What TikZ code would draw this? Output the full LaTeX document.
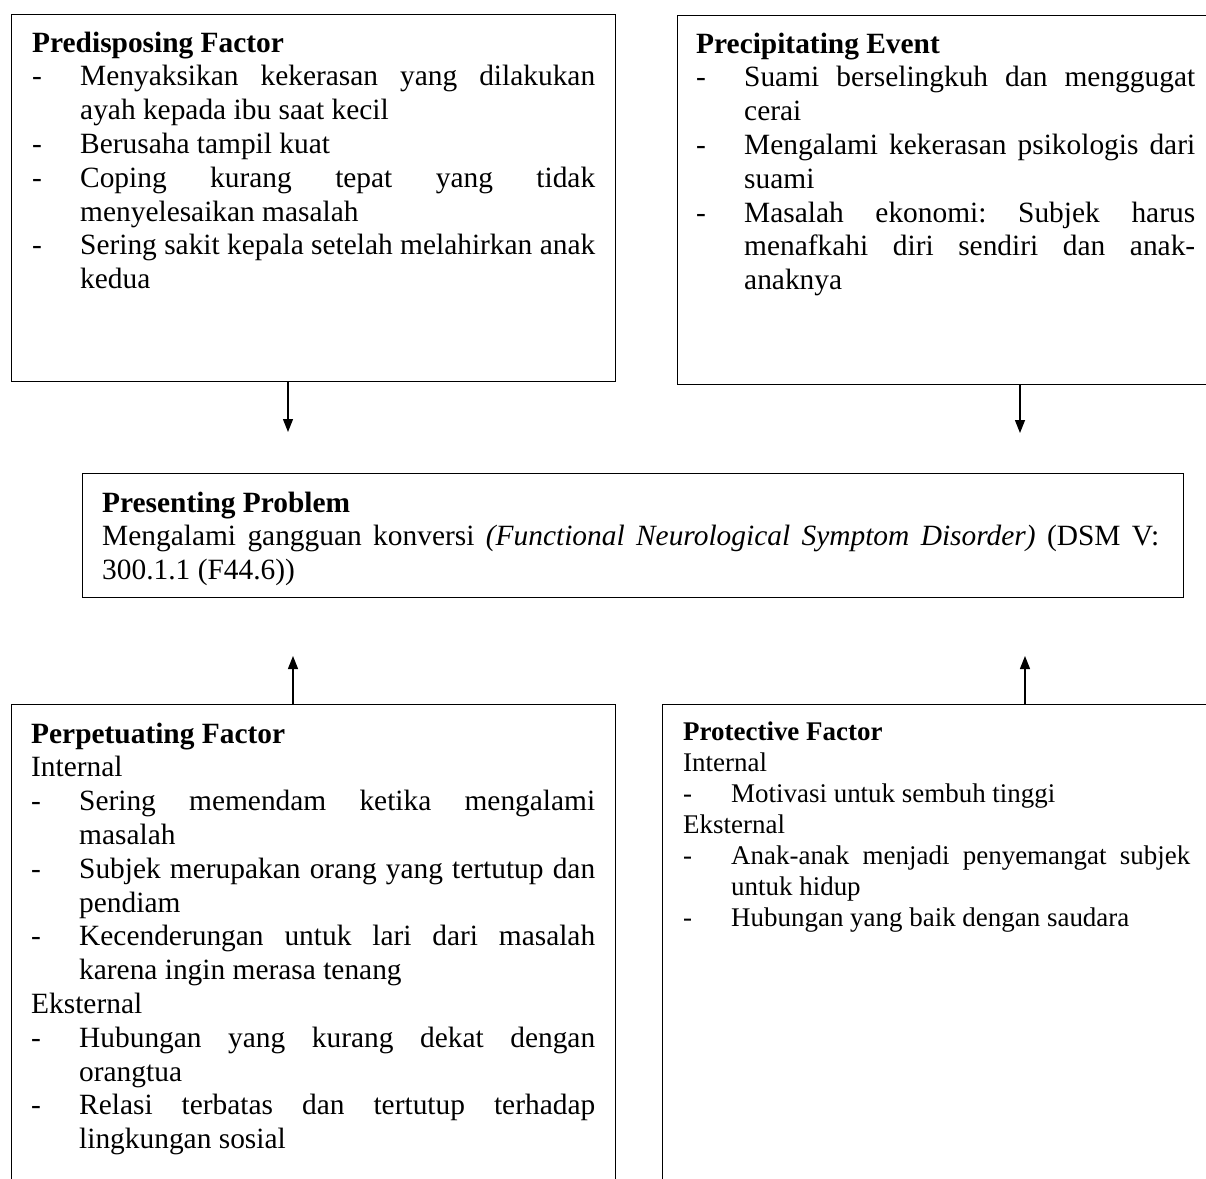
\documentclass[tikz,border=0pt]{standalone}
\usepackage{fontspec}
\setmainfont{Liberation Serif}
\usetikzlibrary{arrows.meta}
\newcommand{\itm}[1]{\par\noindent\hangindent=48pt\hangafter=1\makebox[48pt][l]{-}#1\par}
\newcommand{\plain}[1]{\par\noindent #1\par}
\tikzset{
  box/.style={draw=black, line width=1.4pt, rectangle, inner sep=0pt, anchor=north west},
  txt/.style={inner sep=0pt, anchor=base west},
  arr/.style={line width=1.3pt, -{Triangle[width=10pt,length=13pt]}},
}
\newcommand{\bigfont}{\fontsize{29.4}{33.8}\selectfont\frenchspacing\hyphenpenalty=10000\exhyphenpenalty=10000\hfuzz=3pt}
\newcommand{\smallfont}{\fontsize{26.95}{31}\selectfont\frenchspacing\hyphenpenalty=10000\exhyphenpenalty=10000\hfuzz=3pt}
\begin{document}
\begin{tikzpicture}[x=1pt, y={(0pt,-1pt)}]
\useasboundingbox (0,0) rectangle (1206,1178);
\clip (0,0) rectangle (1206,1178);
% boxes
\node[box, minimum width=604pt, minimum height=367pt] (pre) at (11,14) {};
\node[box, minimum width=560pt, minimum height=369pt] (prc) at (677,15) {};
\node[box, minimum width=1101pt, minimum height=124pt] (pres) at (82,473) {};
\node[box, minimum width=604pt, minimum height=500pt] (perp) at (11,704) {};
\node[box, minimum width=570pt, minimum height=500pt] (prot) at (662,704) {};
% texts
\node[txt] (preT) at (32,52) {\begin{minipage}[t]{563pt}\bigfont
\plain{\textbf{Predisposing Factor}}
\itm{Menyaksikan kekerasan yang dilakukan\linebreak ayah kepada ibu saat kecil}
\itm{Berusaha tampil kuat}
\itm{Coping kurang tepat yang tidak\linebreak menyelesaikan masalah}
\itm{Sering sakit kepala setelah melahirkan anak\linebreak kedua}
\end{minipage}};
\node[txt] (prcT) at (696,53) {\begin{minipage}[t]{499pt}\bigfont
\plain{\textbf{Precipitating Event}}
\itm{Suami berselingkuh dan menggugat\linebreak cerai}
\itm{Mengalami kekerasan psikologis dari\linebreak suami}
\itm{Masalah ekonomi: Subjek harus\linebreak menafkahi diri sendiri dan anak-\linebreak anaknya}
\end{minipage}};
\node[txt] (presT) at (102,512) {\begin{minipage}[t]{1057pt}\bigfont
\plain{\textbf{Presenting Problem}}
\plain{Mengalami gangguan konversi \textit{(Functional Neurological Symptom Disorder)} (DSM V:\linebreak 300.1.1 (F44.6))}
\end{minipage}};
\node[txt] (perpT) at (31,743) {\begin{minipage}[t]{564pt}\bigfont
\plain{\textbf{Perpetuating Factor}}
\plain{Internal}
\itm{Sering memendam ketika mengalami\linebreak masalah}
\itm{Subjek merupakan orang yang tertutup dan\linebreak pendiam}
\itm{Kecenderungan untuk lari dari masalah\linebreak karena ingin merasa tenang}
\plain{Eksternal}
\itm{Hubungan yang kurang dekat dengan\linebreak orangtua}
\itm{Relasi terbatas dan tertutup terhadap\linebreak lingkungan sosial}
\end{minipage}};
\node[txt] (protT) at (683,740) {\begin{minipage}[t]{507pt}\smallfont
\plain{\textbf{Protective Factor}}
\plain{Internal}
\itm{Motivasi untuk sembuh tinggi}
\plain{Eksternal}
\itm{Anak-anak menjadi penyemangat subjek\linebreak untuk hidup}
\itm{Hubungan yang baik dengan saudara}
\end{minipage}};
% arrow ends
\coordinate (a1) at (288,432);
\coordinate (a2) at (1020,433);
\coordinate (a3) at (293,656);
\coordinate (a4) at (1025,656);
\draw[arr] (pre.south -| a1) -- (a1);
\draw[arr] (prc.south -| a2) -- (a2);
\draw[arr] (perp.north -| a3) -- (a3);
\draw[arr] (prot.north -| a4) -- (a4);
\end{tikzpicture}
\end{document}
